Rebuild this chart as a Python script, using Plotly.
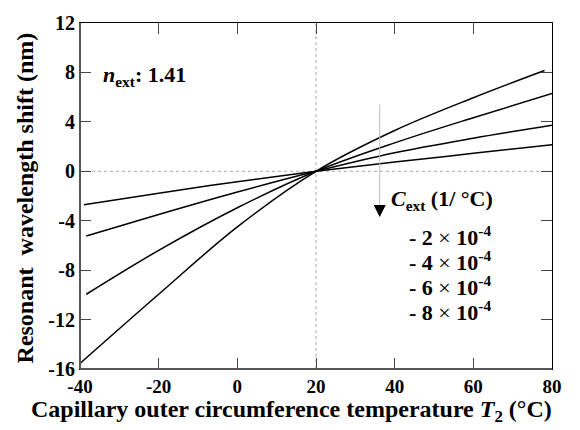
import plotly.graph_objects as go

# Data
c1_x = [-39.0, -20, 0, 20, 40, 60, 80]
c1_y = [-2.71, -1.77, -0.84, 0, 0.75, 1.45, 2.15]
c2_x = [-38.4, -20, 0, 20, 40, 60, 80]
c2_y = [-5.24, -3.50, -1.68, 0, 1.50, 2.68, 3.73]
c3_x = [-38.4, -20, 0, 20, 40, 60, 80]
c3_y = [-9.95, -6.40, -2.95, 0, 2.30, 4.34, 6.29]
c4_x = [-40.0, -20, 0, 20, 40, 60, 78.1]
c4_y = [-15.55, -9.95, -4.50, 0, 3.30, 5.95, 8.15]

x_ticks = [-40, -20, 0, 20, 40, 60, 80]
y_ticks = [-16, -12, -8, -4, 0, 4, 8, 12]
legend_labels = ["- 2 × 10<sup>-4</sup>", "- 4 × 10<sup>-4</sup>",
                 "- 6 × 10<sup>-4</sup>", "- 8 × 10<sup>-4</sup>"]

FONT = "Times New Roman, Liberation Serif, DejaVu Serif, serif"

L, R, T, B = 80, 28, 16, 61
PW, PH = 580 - L - R, 430 - T - B


def px(xp):
    return (xp - L) / PW


def py(yp):
    return 1 - (yp - T) / PH


fig = go.Figure()
for xs, ys in [(c1_x, c1_y), (c2_x, c2_y), (c3_x, c3_y), (c4_x, c4_y)]:
    fig.add_trace(go.Scatter(x=xs, y=ys, mode="lines",
                             line=dict(color="black", width=1.5, shape="spline", smoothing=1.0),
                             showlegend=False, hoverinfo="skip"))

fig.update_layout(
    width=580, height=430,
    margin=dict(l=L, r=R, t=T, b=B),
    paper_bgcolor="white", plot_bgcolor="white",
    font=dict(family=FONT, size=18, color="black"),
)
fig.update_xaxes(
    range=[-40, 80], tickvals=x_ticks, ticktext=[f"<b>{v}</b>" for v in x_ticks],
    ticks="inside", ticklen=11, tickwidth=1, tickcolor="#444",
    showline=True, linecolor="black", linewidth=1, mirror="ticks",
    showgrid=False, zeroline=False,
    tickfont=dict(family=FONT, size=19),
)
fig.update_yaxes(
    range=[-16, 12], tickvals=y_ticks, ticktext=[f"<b>{v}</b>" for v in y_ticks],
    ticks="inside", ticklen=11, tickwidth=1, tickcolor="#444",
    showline=True, linecolor="black", linewidth=1, mirror="ticks",
    showgrid=False, zeroline=False,
    tickfont=dict(family=FONT, size=20),
)

# axis titles
fig.add_annotation(xref="paper", yref="paper", x=px(291), y=py(412),
                   xanchor="center", yanchor="middle", showarrow=False,
                   text="<b>Capillary outer circumference temperature <i>T</i><sub>2</sub> (°C)</b>",
                   font=dict(family=FONT, size=24))
fig.add_annotation(xref="paper", yref="paper", x=px(25), y=py(195), textangle=-90,
                   xanchor="center", yanchor="middle", showarrow=False,
                   text="<b>Resonant  wavelength shift (nm)</b>",
                   font=dict(family=FONT, size=24))

# dotted reference lines
fig.add_shape(type="line", xref="x", yref="y domain", x0=20, x1=20, y0=0, y1=1,
              line=dict(color="#aaa", width=1, dash="dot"), layer="below")
fig.add_shape(type="line", xref="x domain", yref="y", x0=0, x1=1, y0=0, y1=0,
              line=dict(color="#aaa", width=1, dash="dot"), layer="below")
# thicker left / bottom frame lines
fig.add_shape(type="line", xref="paper", yref="paper", x0=0, x1=0, y0=0, y1=1,
              line=dict(color="#555", width=2))
fig.add_shape(type="line", xref="paper", yref="paper", x0=0, x1=1, y0=0, y1=0,
              line=dict(color="#555", width=2))

# arrow
fig.add_shape(type="line", xref="x", yref="y", x0=36.2, x1=36.2, y0=5.4, y1=-3.0,
              line=dict(color="#bbb", width=1))
fig.add_annotation(x=36.2, y=-3.7, ax=36.2, ay=-2.9, xref="x", yref="y", axref="x", ayref="y",
                   text="", showarrow=True, arrowhead=2, arrowsize=1.6, arrowwidth=1.5, arrowcolor="black")

fig.add_annotation(xref="paper", yref="paper", x=px(101), y=py(70),
                   xanchor="left", yanchor="middle", showarrow=False,
                   text="<b><i>n</i><sub>ext</sub>: 1.41</b>", font=dict(family=FONT, size=22))
fig.add_annotation(xref="paper", yref="paper", x=px(389), y=py(197),
                   xanchor="left", yanchor="middle", showarrow=False,
                   text="<b><i>C</i><sub>ext</sub> (1/ °C)</b>", font=dict(family=FONT, size=22))
for i, lab in enumerate(legend_labels):
    yp = 233 + i * 25.5
    fig.add_annotation(xref="paper", yref="paper", x=px(407), y=py(yp),
                       xanchor="left", yanchor="middle", showarrow=False,
                       text="<b>" + lab.replace("×", "</b>×<b>") + "</b>", font=dict(family=FONT, size=22))

fig.write_html("out.html")
